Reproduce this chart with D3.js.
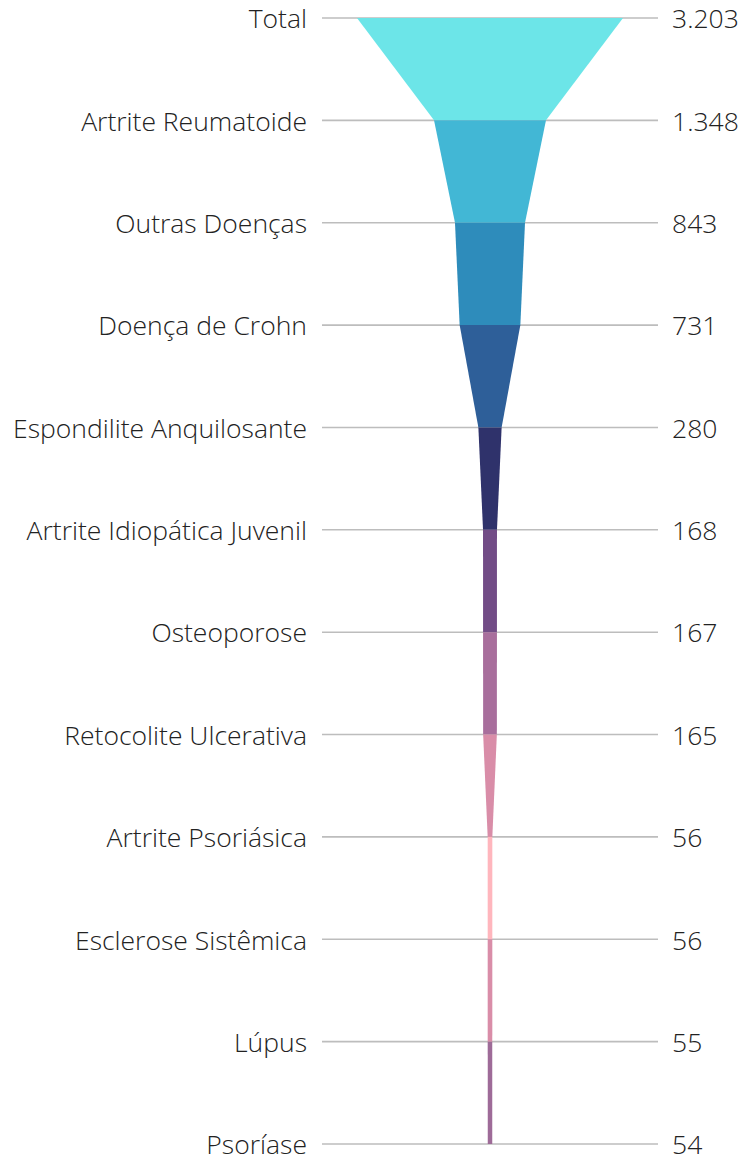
<!DOCTYPE html>
<html><head><meta charset="utf-8">
<script src="https://cdn.jsdelivr.net/npm/d3@7"></script>
<style>html,body{margin:0;padding:0;background:#fff;}</style>
</head><body>
<svg id="c" width="749" height="1160"></svg>
<script>
const categories = ["Total","Artrite Reumatoide","Outras Doenças","Doença de Crohn","Espondilite Anquilosante","Artrite Idiopática Juvenil","Osteoporose","Retocolite Ulcerativa","Artrite Psoriásica","Esclerose Sistêmica","Lúpus","Psoríase"];
const values = [3203,1348,843,731,280,168,167,165,56,56,55,54];
const valueLabels = ["3.203","1.348","843","731","280","168","167","165","56","56","55","54"];
const segmentColors = ["#6ce5e8","#42b7d5","#2e8cbb","#2e5f99","#2f326b","#724c86","#a86e9c","#d98da8","#ffb6bd","#d98da8","#9e6b98"];

const svg = d3.select("#c");
const cx = 490;
const y = d3.scalePoint().domain(categories).range([18, 1144]);
const w = d3.scaleLinear().domain([0, d3.max(values)]).range([0, 266]);

svg.append("g").selectAll("line").data(categories).join("line")
  .attr("x1", 322).attr("x2", 658)
  .attr("y1", d => y(d)).attr("y2", d => y(d))
  .attr("stroke", "#bdbdbd").attr("stroke-width", 1.6);

const segs = d3.range(values.length - 1).map(i => ({i}));
svg.append("g").selectAll("path").data(segs).join("path")
  .attr("fill", d => segmentColors[d.i])
  .attr("d", d => {
    const y0 = y(categories[d.i]), y1 = y(categories[d.i+1]);
    const h0 = w(values[d.i]) / 2, h1 = w(values[d.i+1]) / 2;
    return `M${cx-h0},${y0}L${cx+h0},${y0}L${cx+h1},${y1}L${cx-h1},${y1}Z`;
  });

const font = "'Open Sans', sans-serif";
svg.append("g").selectAll("text").data(categories).join("text")
  .attr("x", 307).attr("y", d => y(d) + 1).attr("dy", "0.35em")
  .attr("text-anchor", "end")
  .attr("font-family", font).attr("font-weight", 300).attr("font-size", 26.5)
  .attr("fill", "#222")
  .text(d => d);

svg.append("g").selectAll("text").data(valueLabels).join("text")
  .attr("x", 672).attr("y", (d, i) => y(categories[i]) + 1).attr("dy", "0.35em")
  .attr("text-anchor", "start")
  .attr("font-family", font).attr("font-weight", 300).attr("font-size", 26.5)
  .attr("fill", "#222")
  .text(d => d);
</script>
</body></html>
